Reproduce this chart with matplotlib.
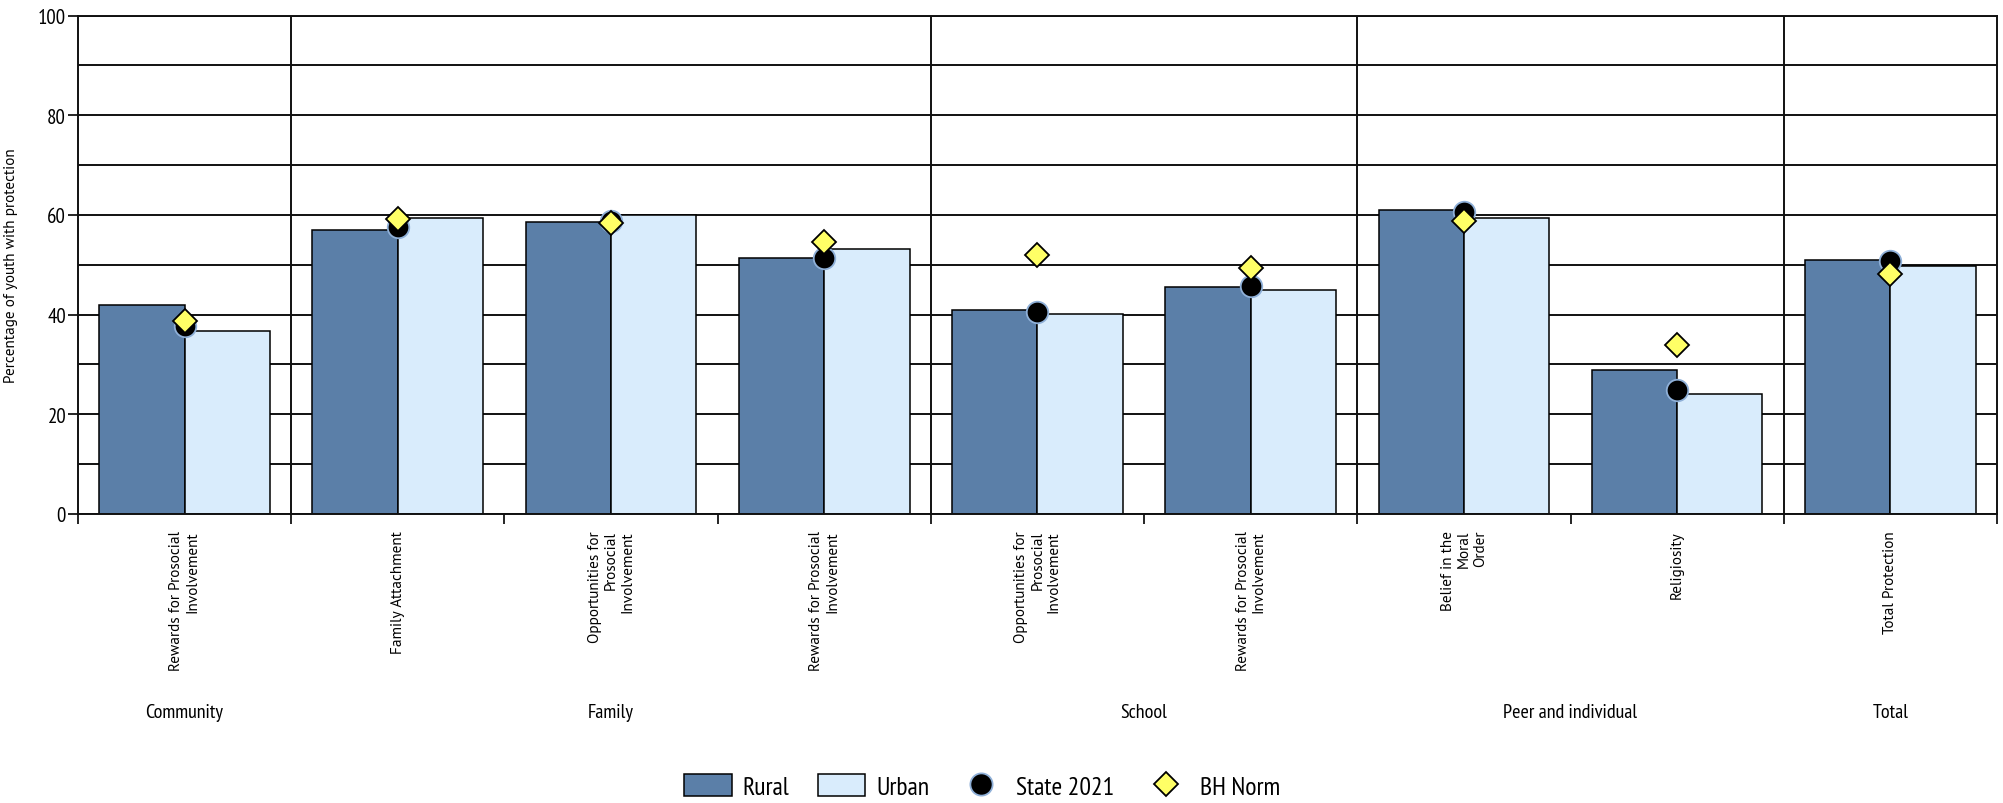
"""Protective factors by locale: rural vs urban bars with state and norm markers."""
import matplotlib

matplotlib.use("Agg")
import matplotlib.pyplot as plt
from matplotlib.lines import Line2D
from matplotlib.patches import Patch
from matplotlib.transforms import blended_transform_factory

CATEGORIES = [
    "Rewards for Prosocial\nInvolvement",
    "Family Attachment",
    "Opportunities for\nProsocial\nInvolvement",
    "Rewards for Prosocial\nInvolvement",
    "Opportunities for\nProsocial\nInvolvement",
    "Rewards for Prosocial\nInvolvement",
    "Belief in the\nMoral\nOrder",
    "Religiosity",
    "Total Protection",
]
GROUPS = ["Community", "Family", "School", "Peer and individual", "Total"]
GROUP_SIZES = [1, 3, 2, 2, 1]

RURAL = [42.0, 56.9, 58.5, 51.4, 41.0, 45.6, 61.0, 28.8, 51.0]
URBAN = [36.8, 59.3, 59.9, 53.1, 40.1, 44.9, 59.3, 24.0, 49.8]
STATE_2021 = [37.8, 57.6, 58.7, 51.3, 40.6, 45.8, 60.6, 24.9, 50.8]
BH_NORM = [38.7, 59.1, 58.3, 54.6, 52.0, 49.3, 58.8, 34.0, 48.2]

RURAL_COLOR = "#5b7fa8"
URBAN_COLOR = "#d9ecfc"
DOT_EDGE = "#8fb0d8"
DIAMOND_COLOR = "#ffff66"
NARROW = ["PT Sans Narrow", "DejaVu Sans"]
REGULAR = ["PT Sans", "DejaVu Sans"]

fig = plt.figure(figsize=(20.03, 8.04), dpi=100)
ax = fig.add_axes([0.0389, 0.3595, 0.997 - 0.0389, 0.9794 - 0.3595])

x = list(range(len(CATEGORIES)))
w = 0.4
ax.bar([i - w / 2 for i in x], RURAL, width=w, color=RURAL_COLOR,
       edgecolor="black", linewidth=1.1, zorder=2)
ax.bar([i + w / 2 for i in x], URBAN, width=w, color=URBAN_COLOR,
       edgecolor="black", linewidth=1.1, zorder=2)
ax.plot(x, STATE_2021, "o", ms=15.5, mfc="black", mec=DOT_EDGE, mew=1.3,
        ls="none", zorder=4)
ax.plot(x, BH_NORM, "D", ms=12, mfc=DIAMOND_COLOR, mec="black", mew=1.3,
        ls="none", zorder=5)

ax.set_xlim(-0.5, len(CATEGORIES) - 0.5)
ax.set_ylim(0, 100)

# horizontal grid every 10, labels every 20
ax.set_yticks(range(0, 101, 20))
ax.set_yticks(range(0, 101, 10), minor=True)
ax.yaxis.grid(True, which="both", color="#111111", linewidth=1.4)
ax.set_axisbelow(True)
ax.tick_params(axis="y", which="major", length=7.5, width=1.2, pad=1,
               labelsize=15)
ax.tick_params(axis="y", which="minor", length=0)
for lab in ax.get_yticklabels():
    lab.set_family(NARROW)

# category labels at centres, tick marks at every boundary
ax.set_xticks(x)
ax.set_xticklabels(CATEGORIES, rotation=90, ha="center", va="top",
                   multialignment="right", linespacing=1.2,
                   family=REGULAR, fontsize=11)
ax.set_xticks([i - 0.5 for i in range(len(CATEGORIES) + 1)], minor=True)
ax.tick_params(axis="x", which="major", length=0, pad=11.5)
ax.tick_params(axis="x", which="minor", length=7.5, width=1.2)

# group separators and group names
trans = blended_transform_factory(ax.transData, ax.transAxes)
start = -0.5
for name, size in zip(GROUPS, GROUP_SIZES):
    end = start + size
    if end < len(CATEGORIES) - 0.5:
        ax.axvline(end, color="#111111", linewidth=1.4, zorder=1)
    ax.text((start + end) / 2, -0.397, name, transform=trans, ha="center",
            va="center", fontsize=14.5, family=NARROW)
    start = end

for side in ["left", "right", "top", "bottom"]:
    ax.spines[side].set_color("#111111")
    ax.spines[side].set_linewidth(1.4)

ax.set_ylabel("Percentage of youth with protection", family=REGULAR,
              fontsize=11)
ax.yaxis.set_label_coords(-0.031, 0.5)

handles = [
    Patch(facecolor=RURAL_COLOR, edgecolor="black", linewidth=1.1, label="Rural"),
    Patch(facecolor=URBAN_COLOR, edgecolor="black", linewidth=1.1, label="Urban"),
    Line2D([], [], marker="o", ms=16, mfc="black", mec=DOT_EDGE, mew=1.3,
           ls="none", label="State 2021"),
    Line2D([], [], marker="D", ms=12.5, mfc=DIAMOND_COLOR, mec="black", mew=1.3,
           ls="none", label="BH Norm"),
]
fig.legend(handles=handles, loc="center", bbox_to_anchor=(0.4905, 0.021),
           ncol=4, frameon=False, prop={"family": NARROW, "size": 18.5},
           handlelength=1.85, handleheight=0.95, handletextpad=0.42,
           columnspacing=1.1, borderpad=0)

fig.savefig("out.png", dpi=100)
